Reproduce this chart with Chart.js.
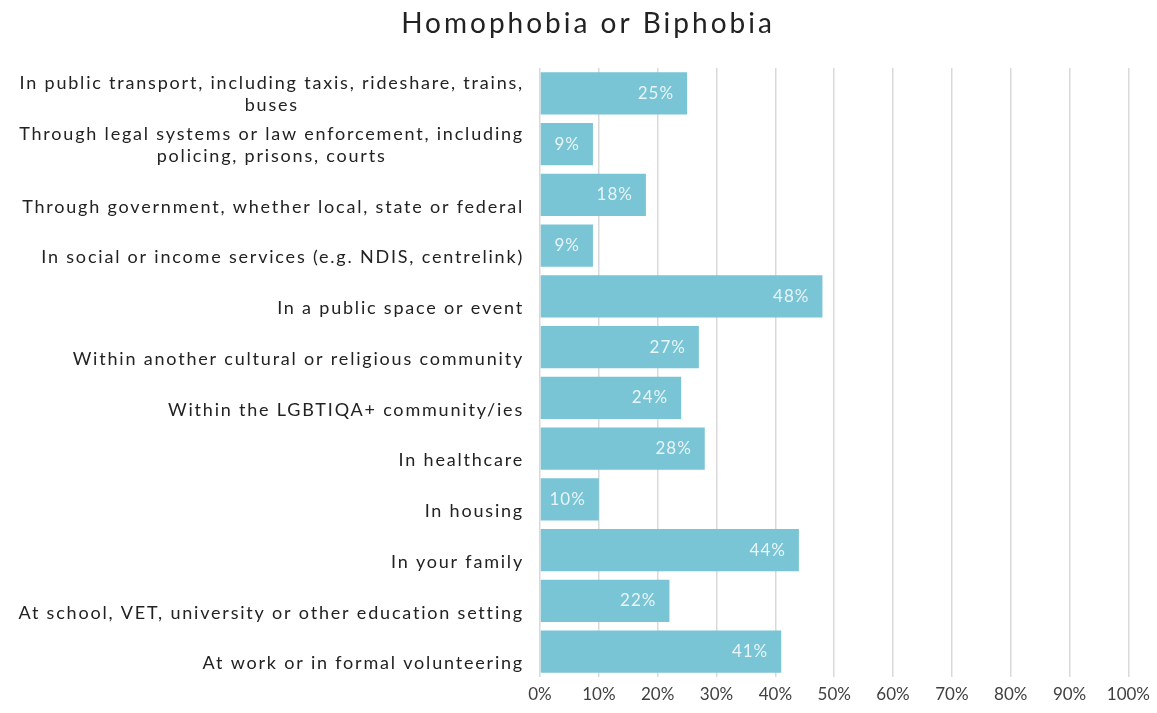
<!DOCTYPE html>
<html>
<head>
<meta charset="utf-8">
<script src="https://cdn.jsdelivr.net/npm/chart.js@4.4.1/dist/chart.umd.min.js"></script>
<style>
  html, body { margin: 0; padding: 0; background: #ffffff; }
  #wrap { width: 1157px; height: 713px; }
</style>
</head>
<body>
<div id="wrap"><canvas id="chart" width="1157" height="713"></canvas></div>
<script>
const chartTitle = "Homophobia or Biphobia";
const categories = [
    ["In public transport, including taxis, rideshare, trains,", "buses"],
    ["Through legal systems or law enforcement, including", "policing, prisons, courts"],
    "Through government, whether local, state or federal",
    "In social or income services (e.g. NDIS, centrelink)",
    "In a public space or event",
    "Within another cultural or religious community",
    "Within the LGBTIQA+ community/ies",
    "In healthcare",
    "In housing",
    "In your family",
    "At school, VET, university or other education setting",
    "At work or in formal volunteering"
];
const percentages = [25, 9, 18, 9, 48, 27, 24, 28, 10, 44, 22, 41];
const xTicks = [0, 10, 20, 30, 40, 50, 60, 70, 80, 90, 100];

const FONT = "Lato, 'Open Sans', sans-serif";
const TEXT = "#222222";

// title drawn by hand so it can be letter-spaced
const spacedTitle = {
    id: "spacedTitle",
    afterDraw(chart) {
        const ctx = chart.ctx;
        ctx.save();
        ctx.font = "28px " + FONT;
        ctx.letterSpacing = "3px";
        ctx.fillStyle = TEXT;
        ctx.textAlign = "center";
        ctx.textBaseline = "middle";
        ctx.fillText(chartTitle, 588, 24);
        ctx.restore();
    }
};

// category labels: each block right-aligned to the axis, lines centred within the block;
// single-line labels sit on the lower line of the two-line slot
const categoryLabels = {
    id: "categoryLabels",
    afterDraw(chart) {
        const ctx = chart.ctx;
        const yScale = chart.scales.y;
        const right = chart.chartArea.left - 16;
        const lineHeight = 22;
        ctx.save();
        ctx.font = "18px " + FONT;
        ctx.letterSpacing = "1.8px";
        ctx.fillStyle = TEXT;
        ctx.textAlign = "center";
        ctx.textBaseline = "middle";
        categories.forEach((label, i) => {
            const lines = Array.isArray(label) ? label : [label];
            const widest = Math.max(...lines.map(l => ctx.measureText(l).width));
            const cx = right - widest / 2;
            const cy = yScale.getPixelForValue(i);
            const top = lines.length === 1
                ? cy + lineHeight / 2 + 1
                : cy - (lines.length - 1) * lineHeight / 2 + 1;
            lines.forEach((line, j) => ctx.fillText(line, cx, top + j * lineHeight));
        });
        ctx.restore();
    }
};

// percentage inside the end of each bar
const valueLabels = {
    id: "valueLabels",
    afterDatasetsDraw(chart) {
        const ctx = chart.ctx;
        const meta = chart.getDatasetMeta(0);
        ctx.save();
        ctx.font = "17px " + FONT;
        ctx.letterSpacing = "1px";
        ctx.fillStyle = "rgba(255, 255, 255, 0.82)";
        ctx.textAlign = "right";
        ctx.textBaseline = "middle";
        meta.data.forEach((bar, i) => {
            ctx.fillText(percentages[i] + "%", bar.x - 13, bar.y);
        });
        ctx.restore();
    }
};

new Chart(document.getElementById("chart"), {
    type: "bar",
    data: {
        labels: categories,
        datasets: [{
            data: percentages,
            backgroundColor: "#79c5d5",
            borderWidth: 0,
            barPercentage: 0.83,
            categoryPercentage: 1
        }]
    },
    options: {
        indexAxis: "y",
        responsive: false,
        animation: false,
        layout: {
            padding: { left: 0, right: 27, top: 68, bottom: 0 }
        },
        plugins: {
            legend: { display: false },
            tooltip: { enabled: false },
            title: { display: false }
        },
        scales: {
            x: {
                min: 0,
                max: 100,
                afterBuildTicks(scale) {
                    scale.ticks = xTicks.map(v => ({ value: v }));
                },
                afterFit(scale) {
                    scale.height = 36;
                },
                grid: {
                    color: "#d9d9d9",
                    lineWidth: 1.5,
                    drawTicks: false
                },
                border: { display: false },
                ticks: {
                    padding: 7,
                    color: "#404040",
                    font: { family: FONT, size: 17 },
                    callback: v => v + "%"
                }
            },
            y: {
                grid: { display: false },
                border: { display: false },
                ticks: { display: false },
                afterFit(scale) {
                    scale.width = 540;
                }
            }
        }
    },
    plugins: [categoryLabels, valueLabels, spacedTitle]
});
</script>
</body>
</html>
